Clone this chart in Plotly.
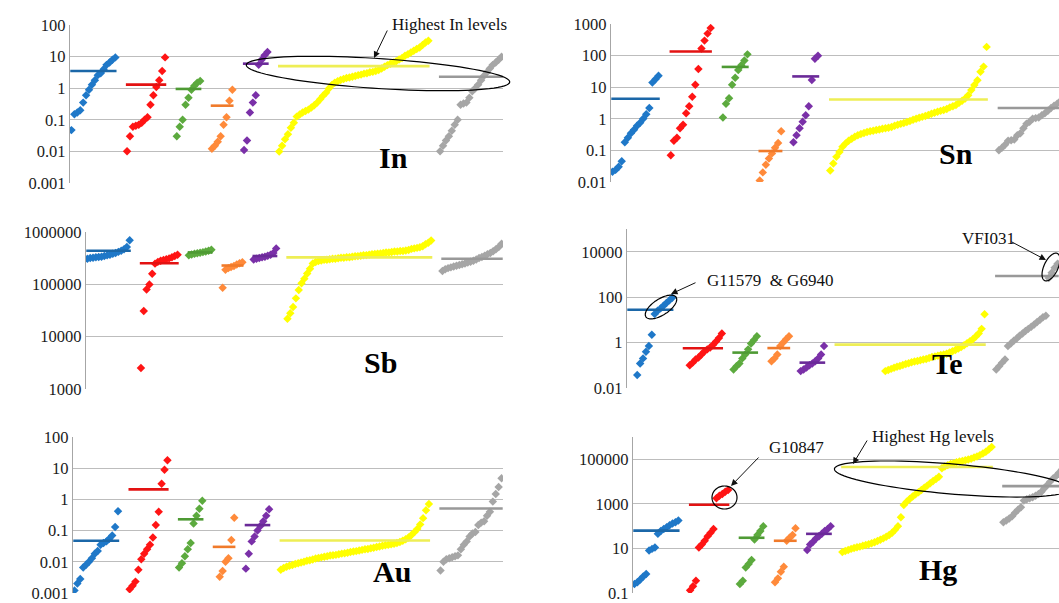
import math
import plotly.graph_objects as go

W, H = 1059, 603

# Sample groups (same sample order in every panel), sorted ascending within each group.
GROUP_SIZES = [16, 14, 9, 8, 9, 52, 22]
GROUP_GAP = 3
POINT_COLORS = ["#1F78C8", "#FF1414", "#5CAA3E", "#FF8A3A", "#7A30A8", "#FFFF00", "#A6A6A6"]
MEAN_COLORS = ["#1B67A8", "#E31212", "#4E9A34", "#F07A2A", "#6A2A98", "#EEEE55", "#999999"]

# ---- In ----
in_series = [
    [0.047, 0.15, 0.17, 0.2, 0.35, 0.6, 0.9, 1.3, 1.8, 2.6, 3.0, 4.0, 5.5, 6.5, 8.0, 9.5],
    [0.01, 0.03, 0.06, 0.065, 0.07, 0.08, 0.1, 0.12, 0.3, 0.6, 1.1, 1.8, 3.5, 9.5],
    [0.03, 0.06, 0.1, 0.3, 0.5, 0.9, 1.2, 1.5, 1.7],
    [0.012, 0.015, 0.02, 0.03, 0.07, 0.12, 0.4, 0.9],
    [0.011, 0.022, 0.17, 0.35, 0.6, 5.5, 8, 11, 14],
    [0.0098, 0.015, 0.024, 0.035, 0.056, 0.081, 0.126, 0.148, 0.17, 0.19,
     0.21, 0.245, 0.29, 0.35, 0.45, 0.58, 0.72, 0.98, 1.26, 1.5,
     1.66, 1.82, 1.95, 2.1, 2.2, 2.3, 2.45, 2.6, 2.7, 2.9,
     3.0, 3.2, 3.3, 3.5, 3.8, 4.2, 4.8, 5.4, 6.0, 6.5,
     7.2, 8.1, 9.1, 10.7, 12, 13.5, 15.5, 17.4, 19.5, 23.4, 28, 32],
    [0.01, 0.015, 0.022, 0.03, 0.045, 0.07, 0.1, 0.3, 0.33, 0.35, 0.5,
     0.8, 1.0, 1.3, 1.8, 2.5, 3.2, 4.2, 5.5, 6.5, 8, 10],
]
in_means = [3.5, 1.3, 0.95, 0.28, 6.0, 5.0, 2.3]
in_ticks = ["0.001", "0.01", "0.1", "1", "10", "100"]

# ---- Sn ----
sn_series = [
    [0.021, 0.024, 0.03, 0.045, 0.18, 0.25, 0.35, 0.45, 0.6, 0.75, 1.0, 1.4, 2.2, 14, 18, 23],
    [0.07, 0.2, 0.25, 0.5, 0.65, 1.5, 2.5, 5, 12, 38, 170, 300, 500, 750],
    [1.1, 3, 4.5, 12, 20, 35, 50, 70, 110],
    [0.011, 0.02, 0.035, 0.055, 0.08, 0.12, 0.17, 0.4],
    [0.18, 0.3, 0.5, 0.8, 1.3, 2.5, 17, 80, 100],
    [0.023, 0.038, 0.062, 0.089, 0.13, 0.166, 0.2, 0.234, 0.27, 0.3,
     0.33, 0.355, 0.38, 0.4, 0.42, 0.44, 0.46, 0.48, 0.5, 0.52,
     0.55, 0.6, 0.65, 0.69, 0.74, 0.79, 0.85, 0.93, 1.0, 1.07,
     1.15, 1.23, 1.32, 1.45, 1.55, 1.66, 1.78, 1.9, 2.04, 2.3,
     2.5, 2.75, 3.2, 3.7, 4.4, 5.6, 8.1, 11.7, 16.6, 31, 45, 190],
    [0.1, 0.12, 0.15, 0.2, 0.21, 0.22, 0.3, 0.35, 0.5, 0.7, 0.8,
     1.0, 1.05, 1.1, 1.3, 1.5, 1.8, 2.2, 2.6, 3.0, 3.6, 4.5],
]
sn_means = [4.3, 135, 44, 0.095, 22, 4.1, 2.2]
sn_ticks = ["0.01", "0.1", "1", "10", "100", "1000"]

# ---- Sb ----
sb_series = [
    [310000, 320000, 325000, 330000, 335000, 340000, 350000, 360000, 370000,
     385000, 400000, 420000, 440000, 470000, 520000, 700000],
    [2500, 31000, 80000, 100000, 160000, 250000, 270000, 285000, 295000,
     305000, 315000, 330000, 350000, 370000],
    [360000, 375000, 385000, 395000, 405000, 415000, 425000, 440000, 460000],
    [86000, 190000, 205000, 215000, 225000, 240000, 255000, 265000],
    [300000, 310000, 320000, 330000, 340000, 355000, 370000, 400000, 490000],
    [22000, 28000, 37000, 54000, 78000, 105000, 129000, 162000, 200000, 251000,
     269000, 282000, 288000, 295000, 296000, 302000, 309000, 310000, 316000, 324000,
     325000, 331000, 332000, 339000, 347000, 348000, 355000, 363000, 364000, 372000,
     380000, 381000, 389000, 390000, 398000, 407000, 408000, 417000, 426000, 427000,
     436000, 437000, 447000, 457000, 479000, 490000, 501000, 513000, 537000, 589000,
     631000, 692000],
    [180000, 195000, 205000, 212000, 220000, 228000, 235000, 243000, 252000, 262000,
     272000, 285000, 300000, 320000, 335000, 355000, 380000, 400000, 430000, 470000,
     520000, 600000],
]
sb_means = [440000, 255000, 410000, 230000, 350000, 330000, 310000]
sb_ticks = ["1000", "10000", "100000", "1000000"]

# ---- Te ----
te_series = [
    [0.037, 0.12, 0.2, 0.39, 0.7, 2.2, 18, 25, 32, 42, 55, 72, 95],
    [0.1, 0.13, 0.18, 0.22, 0.3, 0.4, 0.5, 0.6, 0.8, 1.1, 1.6, 2.5],
    [0.065, 0.09, 0.12, 0.2, 0.3, 0.5, 0.9, 1.3, 1.9],
    [0.15, 0.2, 0.3, 0.7, 1.0, 1.4, 1.9],
    [0.055, 0.065, 0.08, 0.1, 0.12, 0.15, 0.2, 0.3, 0.7],
    [0.055, 0.062, 0.069, 0.078, 0.085, 0.093, 0.102, 0.112, 0.123, 0.135,
     0.145, 0.155, 0.166, 0.178, 0.19, 0.21, 0.23, 0.245, 0.263, 0.28,
     0.3, 0.32, 0.36, 0.41, 0.47, 0.54, 0.63, 0.76, 0.93, 1.15,
     1.4, 1.86, 2.5, 4.0, 17.8],
    [0.065, 0.09, 0.13, 0.18, 0.7, 0.9, 1.2, 1.5, 2.0, 2.5, 3.2,
     4.0, 5.0, 6.3, 8, 10, 13, 15, 700, 1200, 2000, 3000],
]
te_means = [28, 0.56, 0.36, 0.57, 0.13, 0.81, 850]
te_ticks = ["0.01", "1", "100", "10000"]

# ---- Au ----
au_series = [
    [0.0012, 0.002, 0.0028, 0.0065, 0.008, 0.01, 0.013, 0.018, 0.022, 0.035,
     0.04, 0.045, 0.055, 0.07, 0.13, 0.42],
    [0.0013, 0.0017, 0.0023, 0.0055, 0.012, 0.018, 0.025, 0.035, 0.06, 0.15,
     0.4, 3.2, 9, 18],
    [0.0065, 0.009, 0.015, 0.025, 0.04, 0.17, 0.3, 0.5, 0.9],
    [0.0033, 0.005, 0.01, 0.013, 0.05, 0.26],
    [0.006, 0.018, 0.045, 0.065, 0.1, 0.14, 0.2, 0.3, 0.48],
    [0.0055, 0.0063, 0.0069, 0.0074, 0.0079, 0.0085, 0.0089, 0.0095, 0.01, 0.0107,
     0.0112, 0.0117, 0.0126, 0.0132, 0.0138, 0.0145, 0.0151, 0.0158, 0.0162, 0.0166,
     0.0174, 0.0182, 0.0186, 0.0195, 0.0204, 0.0214, 0.0219, 0.0229, 0.024, 0.0251,
     0.0257, 0.0269, 0.0282, 0.0295, 0.0309, 0.0324, 0.0339, 0.0347, 0.0363, 0.038,
     0.0398, 0.0427, 0.0468, 0.0525, 0.0603, 0.0724, 0.0891, 0.112, 0.158, 0.251,
     0.447, 0.708],
    [0.0052, 0.01, 0.012, 0.013, 0.014, 0.015, 0.016, 0.025, 0.035, 0.045, 0.065,
     0.08, 0.09, 0.15, 0.18, 0.2, 0.3, 0.4, 0.85, 1.5, 2.5, 4.8],
]
au_means = [0.047, 2.1, 0.23, 0.03, 0.15, 0.048, 0.51]
au_ticks = ["0.001", "0.01", "0.1", "1", "10", "100"]

# ---- Hg ----
hg_series = [
    [0.25, 0.3, 0.4, 0.55, 0.7, 8, 9.5, 11, 45, 60, 75, 90, 110, 130, 150, 180],
    [0.13, 0.2, 0.35, 11, 15, 22, 35, 50, 75, 1800, 2300, 2800, 3500, 4200],
    [0.25, 0.35, 1.4, 2, 3, 25, 40, 60, 100],
    [0.3, 0.45, 0.9, 1.5, 22, 30, 40, 80],
    [8.5, 15, 20, 28, 35, 45, 60, 75, 100],
    [6.8, 7.6, 8.5, 9.5, 10.5, 11.2, 12, 13.2, 14.1, 15.5,
     17, 19, 21.4, 24.5, 28.2, 33, 40, 50, 68, 100,
     250, 890, 1260, 1660, 2140, 2690, 3310, 4170, 5250, 6610,
     8510, 10700, 13200, 16600, 39800, 47900, 55000, 61700, 67600, 74100,
     79400, 85100, 91200, 97700, 107000, 120000, 135000, 155000, 182000, 219000,
     275000, 363000],
    [150, 180, 220, 280, 400, 550, 700, 1400, 1600, 1800, 2000, 2300, 2800,
     3500, 5000, 7000, 10000, 14000, 18000, 25000, 35000, 50000],
]
hg_means = [63, 910, 30, 22, 45, 45000, 6300]
hg_ticks = ["0.1", "10", "1000", "100000"]

# Panel geometry in pixels: x domain, y domain (top, bottom), log10 range, x range end
PANELS = [
    dict(name="In", series=in_series, means=in_means, ticks=in_ticks,
         xdom=(70, 503), ydom=(25, 183), yrange=(-3, 2), xend=147.5, label=(393, 157)),
    dict(name="Sn", series=sn_series, means=sn_means, ticks=sn_ticks,
         xdom=(611, 1059), ydom=(24, 182), yrange=(-2, 3), xend=145.6, label=(956, 153)),
    dict(name="Sb", series=sb_series, means=sb_means, ticks=sb_ticks,
         xdom=(86, 503), ydom=(232, 389), yrange=(3, 6), xend=147.5, label=(380, 362)),
    dict(name="Te", series=te_series, means=te_means, ticks=te_ticks,
         xdom=(627, 1059), ydom=(229, 388), yrange=(-2, 5), xend=147.5, label=(947, 363)),
    dict(name="Au", series=au_series, means=au_means, ticks=au_ticks,
         xdom=(73, 503), ydom=(437, 593), yrange=(-3, 2), xend=147.5, label=(392, 571)),
    dict(name="Hg", series=hg_series, means=hg_means, ticks=hg_ticks,
         xdom=(633, 1059), ydom=(437, 593), yrange=(-1, 6), xend=145.0, label=(938, 569)),
]

SERIF = "Liberation Serif, Times New Roman, serif"


def px(x):
    return x / W


def py(y):
    return 1 - y / H


# start slot of each group along the sample axis
group_starts = []
pos = 0
for size in GROUP_SIZES:
    group_starts.append(pos)
    pos += size + GROUP_GAP

fig = go.Figure()
layout = dict(
    width=W, height=H, margin=dict(l=0, r=0, t=0, b=0),
    paper_bgcolor="white", plot_bgcolor="white", showlegend=False,
)
annotations = []

for k, p in enumerate(PANELS, start=1):
    xa = "x" if k == 1 else f"x{k}"
    ya = "y" if k == 1 else f"y{k}"
    for g, values in enumerate(p["series"]):
        size = GROUP_SIZES[g]
        first = group_starts[g] + size - len(values)
        xs = [first + i for i in range(len(values))]
        fig.add_trace(go.Scatter(
            x=xs, y=values, mode="markers", xaxis=xa, yaxis=ya,
            marker=dict(symbol="diamond", size=6.5, color=POINT_COLORS[g], line=dict(width=0)),
            hoverinfo="y",
        ))
    for g, m in enumerate(p["means"]):
        x0 = group_starts[g] - 0.4
        x1 = group_starts[g] + GROUP_SIZES[g] - 0.6
        fig.add_trace(go.Scatter(
            x=[x0, x1], y=[m, m], mode="lines", xaxis=xa, yaxis=ya,
            line=dict(color=MEAN_COLORS[g], width=2.6), hoverinfo="y",
        ))

    pad = 0.004
    layout["xaxis" if k == 1 else f"xaxis{k}"] = dict(
        domain=[px(p["xdom"][0]), px(p["xdom"][1])], range=[-0.5, p["xend"]],
        anchor=ya, visible=False, fixedrange=True,
    )
    layout["yaxis" if k == 1 else f"yaxis{k}"] = dict(
        domain=[py(p["ydom"][1]), py(p["ydom"][0])], anchor=xa, type="log",
        range=[p["yrange"][0] - pad, p["yrange"][1] + pad],
        tickvals=[float(t) for t in p["ticks"]], ticktext=p["ticks"],
        showgrid=True, gridcolor="#BDBDBD", gridwidth=1.3,
        showline=True, linecolor="#A6A6A6", linewidth=1.3,
        ticks="", ticklen=0, zeroline=False, automargin=False,
        ticklabeloverflow="allow",
        tickfont=dict(family=SERIF, size=16.5, color="#1A1A1A"), fixedrange=True,
    )
    annotations.append(dict(
        text=f"<b>{p['name']}</b>", x=px(p["label"][0]), y=py(p["label"][1]),
        xref="paper", yref="paper", showarrow=False, xanchor="center", yanchor="middle",
        font=dict(family=SERIF, size=30, color="black"),
    ))


def ellipse_path(cx, cy, a, b, angle, n=90):
    t = math.radians(angle)
    pts = []
    for i in range(n):
        th = 2 * math.pi * i / n
        x = cx + a * math.cos(th) * math.cos(t) - b * math.sin(th) * math.sin(t)
        y = cy + a * math.cos(th) * math.sin(t) + b * math.sin(th) * math.cos(t)
        pts.append(f"{px(x):.5f},{py(y):.5f}")
    return "M" + " L".join(pts) + " Z"


# outlined groups of samples (centre, half-axes, tilt in pixels/degrees)
rings = [
    (378, 73.5, 132, 15, 3.7),
    (661, 307, 18, 8, -33),
    (1051, 267, 15, 7, -65),
    (724.5, 497.5, 12.5, 11.5, 0),
    (952, 479, 118, 15, 4.9),
]
layout["shapes"] = [
    dict(type="path", path=ellipse_path(*r), xref="paper", yref="paper",
         line=dict(color="black", width=1.2), fillcolor="rgba(0,0,0,0)")
    for r in rings
]

# callouts: text (left edge, middle), arrow tail, arrow tip
callouts = [
    ("Highest In levels", (390, 24), (388, 29), (374, 58)),
    ("G11579\u00a0 & G6940", (705, 280), (697, 282), (671, 294)),
    ("VFI031", (960, 238), (1010, 241), (1046, 260)),
    ("G10847", (767, 447), (760, 456), (731, 486)),
    ("Highest Hg levels", (870, 436), (868, 439), (853, 464)),
]
for text, tpos, tail, tip in callouts:
    annotations.append(dict(
        text=text, x=px(tpos[0]), y=py(tpos[1]), xref="paper", yref="paper",
        showarrow=False, xanchor="left", yanchor="middle",
        font=dict(family=SERIF, size=17, color="#111111"),
    ))
    annotations.append(dict(
        text="", x=px(tip[0]), y=py(tip[1]), xref="paper", yref="paper",
        showarrow=True, ax=tail[0] - tip[0], ay=tail[1] - tip[1],
        arrowhead=2, arrowsize=1.3, arrowwidth=1, arrowcolor="#111111", standoff=0,
    ))

layout["annotations"] = annotations
fig.update_layout(**layout)
fig.write_html("out.html")
